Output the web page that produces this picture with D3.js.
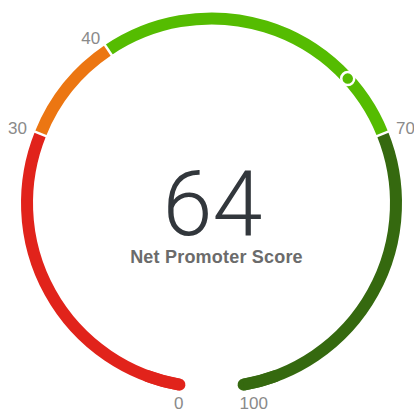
<!DOCTYPE html>
<html>
<head>
<meta charset="utf-8">
<script src="https://cdn.jsdelivr.net/npm/d3@7"></script>
<style>
  body { margin: 0; background: #fff; }
  svg { display: block; }
</style>
</head>
<body>
<div id="viz"></div>
<script>
const bandStarts = [0, 30, 40, 70];
const bandEnds = [30, 40, 70, 100];
const bandColors = ['#e1231b', '#ec7612', '#55bc01', '#35690f'];
const tickValues = [0, 30, 40, 70, 100];
const score = 64;
const scoreLabel = 'Net Promoter Score';

const width = 414;
const height = 410;
const cx = 211.5;
const cy = 203;
const radius = 184.5;
const thickness = 12;

const angle = d3.scaleLinear()
  .domain([0, 100])
  .range([-170 * Math.PI / 180, 170 * Math.PI / 180]);

const svg = d3.select('#viz')
  .append('svg')
  .attr('width', width)
  .attr('height', height);

const g = svg.append('g')
  .attr('transform', `translate(${cx}, ${cy})`);

const arcPath = (a0, a1, r) => {
  const p = d3.path();
  p.arc(0, 0, r, a0 - Math.PI / 2, a1 - Math.PI / 2, false);
  return p.toString();
};

const bands = bandStarts.map((s, i) => ({ start: s, end: bandEnds[i], color: bandColors[i] }));

// round caps on the two outer ends
g.selectAll('path.cap')
  .data([bands[0], bands[bands.length - 1]])
  .enter().append('path')
    .attr('class', 'cap')
    .attr('d', (d, i) => i === 0
      ? arcPath(angle(d.start), angle(d.start + 3), radius)
      : arcPath(angle(d.end - 3), angle(d.end), radius))
    .attr('fill', 'none')
    .attr('stroke', (d) => d.color)
    .attr('stroke-width', thickness)
    .attr('stroke-linecap', 'round');

g.selectAll('path.band')
  .data(bands)
  .enter().append('path')
    .attr('class', 'band')
    .attr('d', (d) => arcPath(angle(d.start), angle(d.end), radius))
    .attr('fill', 'none')
    .attr('stroke', (d) => d.color)
    .attr('stroke-width', thickness)
    .attr('stroke-linecap', 'butt');

// white separators between bands
g.selectAll('line.sep')
  .data(bandStarts.slice(1))
  .enter().append('line')
    .attr('class', 'sep')
    .attr('x1', (d) => (radius - thickness) * Math.sin(angle(d)))
    .attr('y1', (d) => -(radius - thickness) * Math.cos(angle(d)))
    .attr('x2', (d) => (radius + thickness) * Math.sin(angle(d)))
    .attr('y2', (d) => -(radius + thickness) * Math.cos(angle(d)))
    .attr('stroke', '#fff')
    .attr('stroke-width', 2.5);

// tick labels (the two end labels sit just under the caps)
const isEnd = (d) => Math.abs(Math.cos(angle(d))) > 0.9;
g.selectAll('text.tick')
  .data(tickValues)
  .enter().append('text')
    .attr('class', 'tick')
    .attr('x', (d) => {
      const s = Math.sin(angle(d));
      return isEnd(d) ? radius * s - Math.sign(s) * 4 : 199 * s;
    })
    .attr('y', (d) => -(isEnd(d) ? 203 : 199) * Math.cos(angle(d)))
    .attr('dy', '0.35em')
    .attr('text-anchor', (d) => Math.sin(angle(d)) < 0 ? 'end' : 'start')
    .attr('font-family', '"Liberation Sans", Arial, sans-serif')
    .attr('font-size', 17)
    .attr('fill', '#8a8a8a')
    .text((d) => d);

// marker
const bandFor = bands.find((b) => score >= b.start && score <= b.end);
g.append('circle')
  .attr('cx', radius * Math.sin(angle(score)))
  .attr('cy', -radius * Math.cos(angle(score)))
  .attr('r', 6.5)
  .attr('fill', bandFor.color)
  .attr('stroke', '#fff')
  .attr('stroke-width', 2.5);

// centre text
g.append('text')
  .attr('x', 1)
  .attr('y', 32)
  .attr('text-anchor', 'middle')
  .attr('font-family', 'Roboto, "Liberation Sans", sans-serif')
  .attr('font-weight', 300)
  .attr('font-size', 90)
  .attr('fill', '#32373c')
  .text(score);

g.append('text')
  .attr('x', 5)
  .attr('y', 60)
  .attr('text-anchor', 'middle')
  .attr('font-family', '"Liberation Sans", Arial, sans-serif')
  .attr('font-weight', 700)
  .attr('font-size', 18)
  .attr('letter-spacing', 0.2)
  .attr('fill', '#6b6b6b')
  .text(scoreLabel);
</script>
</body>
</html>
